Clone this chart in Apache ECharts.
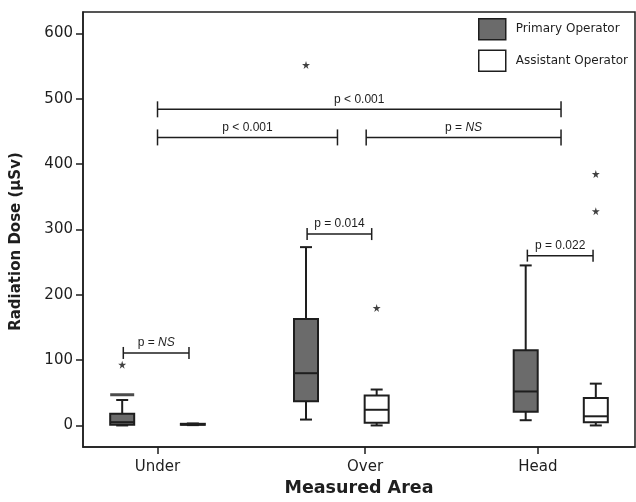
<!DOCTYPE html>
<html>
<head>
<meta charset="utf-8">
<script src="https://cdn.jsdelivr.net/npm/echarts@6/dist/echarts.min.js"></script>
<style>
html, body { margin: 0; padding: 0; background: #fff; }
#chart { width: 636px; height: 502px; }
</style>
</head>
<body>
<div id="chart"></div>
<script>
(function () {
    var areas = ['Under', 'Over', 'Head'];
    var yTicks = [0, 100, 200, 300, 400, 500, 600];
    // min, Q1, median, Q3, max
    var primaryBox = [[0, 1, 5, 18, 39], [9, 37, 80, 163, 273], [8, 21, 52, 115, 245]];
    var assistantBox = [[0.5, 1, 1.5, 2.5, 3], [0, 4, 24, 46, 55], [0, 5, 14, 42, 64]];
    // [area index, value]
    var primaryOutliers = [[0, 93], [1, 552]];
    var assistantOutliers = [[1, 180], [2, 385], [2, 328]];
    var primaryExtreme = [[0, 47]];
    // [x from, x to, value, text]
    var comparisons = [
        [13.5, 86.6, 484, 'p < 0.001'],
        [13.5, 46.1, 441, 'p < 0.001'],
        [51.3, 86.6, 441, 'p = {i|NS}'],
        [40.6, 52.3, 293, 'p = 0.014'],
        [80.5, 92.4, 260, 'p = 0.022'],
        [7.3, 19.2, 111, 'p = {i|NS}']
    ];

    // where the groups sit on the x scale (0-100), the figure is not evenly spaced
    var areaPos = [13.5, 51.1, 82.4];
    var primaryPos = [7.1, 40.4, 80.2];
    var assistantPos = [19.9, 53.2, 92.9];

    var ink = '#1e1e1e';
    var font = 'DejaVu Sans';
    var star = 'path://M50,0 L61,35 L98,35 L68,57 L79,91 L50,70 L21,91 L32,57 L2,35 L39,35 Z';

    function boxData(boxes, pos) {
        return boxes.map(function (b, i) {
            return [pos[i]].concat(b);
        });
    }

    function pointData(list, pos) {
        return list.map(function (p) {
            return [pos[p[0]], p[1]];
        });
    }

    function boxItem(fill) {
        return function (params, api) {
            var x = api.value(0);
            var lo = api.coord([x, api.value(1)]);
            var q1 = api.coord([x, api.value(2)]);
            var md = api.coord([x, api.value(3)]);
            var q3 = api.coord([x, api.value(4)]);
            var hi = api.coord([x, api.value(5)]);
            var cx = lo[0];
            var w = 24, cap = 12;
            var st = {stroke: ink, lineWidth: 2};
            return {
                type: 'group',
                children: [
                    {type: 'line', shape: {x1: cx, y1: hi[1], x2: cx, y2: q3[1]}, style: st},
                    {type: 'line', shape: {x1: cx, y1: q1[1], x2: cx, y2: lo[1]}, style: st},
                    {type: 'line', shape: {x1: cx - cap / 2, y1: hi[1], x2: cx + cap / 2, y2: hi[1]}, style: st},
                    {type: 'line', shape: {x1: cx - cap / 2, y1: lo[1], x2: cx + cap / 2, y2: lo[1]}, style: st},
                    {type: 'rect', shape: {x: cx - w / 2, y: q3[1], width: w, height: q1[1] - q3[1]},
                        style: {fill: fill, stroke: ink, lineWidth: 2}},
                    {type: 'line', shape: {x1: cx - w / 2, y1: md[1], x2: cx + w / 2, y2: md[1]}, style: st}
                ]
            };
        };
    }

    function bracketItem(params, api) {
        var a = api.coord([api.value(0), api.value(2)]);
        var b = api.coord([api.value(1), api.value(2)]);
        var t = params.dataIndex >= 3 ? 6 : 8;
        var st = {stroke: ink, lineWidth: 1.5};
        return {
            type: 'group',
            children: [
                {type: 'line', shape: {x1: a[0], y1: a[1], x2: b[0], y2: b[1]}, style: st},
                {type: 'line', shape: {x1: a[0], y1: a[1] - t, x2: a[0], y2: a[1] + t}, style: st},
                {type: 'line', shape: {x1: b[0], y1: b[1] - t, x2: b[0], y2: b[1] + t}, style: st},
                {
                    type: 'text',
                    style: {
                        x: (a[0] + b[0]) / 2, y: a[1] - 4,
                        text: comparisons[params.dataIndex][3],
                        align: 'center', verticalAlign: 'bottom',
                        fill: ink, fontSize: 12, fontFamily: 'Liberation Sans',
                        rich: {i: {fontStyle: 'italic', fontSize: 12, fontFamily: 'Liberation Sans', fill: ink}}
                    }
                }
            ]
        };
    }

    function nearestArea(v) {
        var best = 0;
        areaPos.forEach(function (p, i) {
            if (Math.abs(p - v) < Math.abs(areaPos[best] - v)) best = i;
        });
        return areas[best];
    }

    var mychart = echarts.init(document.getElementById('chart'));
    var option = {
        animation: false,
        grid: {
            left: 83, right: 1, top: 12, bottom: 55,
            show: true, borderColor: ink, borderWidth: 1.5,
            outerBoundsMode: 'none'
        },
        legend: {
            orient: 'vertical', left: 478, top: 18, padding: 0,
            itemWidth: 27, itemHeight: 21, itemGap: 9,
            textStyle: {fontFamily: font, fontSize: 12, color: ink, padding: [0, 0, 0, 5]},
            data: [
                {name: 'Primary Operator', icon: 'rect', itemStyle: {color: '#6b6b6b', borderColor: ink, borderWidth: 1.5}},
                {name: 'Assistant Operator', icon: 'rect', itemStyle: {color: '#fff', borderColor: ink, borderWidth: 1.5}}
            ]
        },
        xAxis: {
            type: 'value', min: 0, max: 100,
            name: 'Measured Area', nameLocation: 'middle', nameGap: 31,
            nameTextStyle: {fontFamily: font, fontSize: 17.5, fontWeight: 'bold', color: ink},
            axisLine: {show: true, onZero: false, lineStyle: {color: ink, width: 1.5}},
            axisTick: {show: true, length: 7, customValues: areaPos, lineStyle: {color: ink, width: 1.5}},
            axisLabel: {
                customValues: areaPos, margin: 13,
                fontFamily: font, fontSize: 15, color: ink,
                formatter: nearestArea
            },
            splitLine: {show: false}
        },
        yAxis: {
            type: 'value', min: -33, max: 633,
            name: 'Radiation Dose (µSv)', nameLocation: 'middle', nameGap: 59,
            nameTextStyle: {fontFamily: font, fontSize: 15, fontWeight: 'bold', color: ink, padding: [0, 24, 0, 0]},
            axisLine: {show: true, lineStyle: {color: ink, width: 1.5}},
            axisTick: {show: true, length: 7, customValues: yTicks, lineStyle: {color: ink, width: 1.5}},
            axisLabel: {customValues: yTicks, margin: 10, fontFamily: font, fontSize: 15, color: ink},
            splitLine: {show: false}
        },
        series: [
            {
                name: 'Primary Operator', type: 'custom',
                renderItem: boxItem('#6b6b6b'),
                encode: {x: 0, y: [1, 2, 3, 4, 5]},
                data: boxData(primaryBox, primaryPos)
            },
            {
                name: 'Assistant Operator', type: 'custom',
                renderItem: boxItem('#ffffff'),
                encode: {x: 0, y: [1, 2, 3, 4, 5]},
                data: boxData(assistantBox, assistantPos)
            },
            {
                name: 'Primary Operator', type: 'scatter',
                symbol: star, symbolSize: 8,
                itemStyle: {color: '#111'},
                data: pointData(primaryOutliers, primaryPos)
            },
            {
                name: 'Assistant Operator', type: 'scatter',
                symbol: star, symbolSize: 8,
                itemStyle: {color: '#111'},
                data: pointData(assistantOutliers, assistantPos)
            },
            {
                name: 'Primary Operator', type: 'scatter',
                symbol: 'rect', symbolSize: [24, 3],
                itemStyle: {color: ink},
                data: pointData(primaryExtreme, primaryPos)
            },
            {
                name: 'comparisons', type: 'custom',
                renderItem: bracketItem,
                encode: {x: [0, 1], y: 2},
                data: comparisons.map(function (c) { return [c[0], c[1], c[2]]; })
            }
        ]
    };
    mychart.setOption(option);
    window.addEventListener('resize', function () {
        mychart.resize();
    });
})();
</script>
</body>
</html>
